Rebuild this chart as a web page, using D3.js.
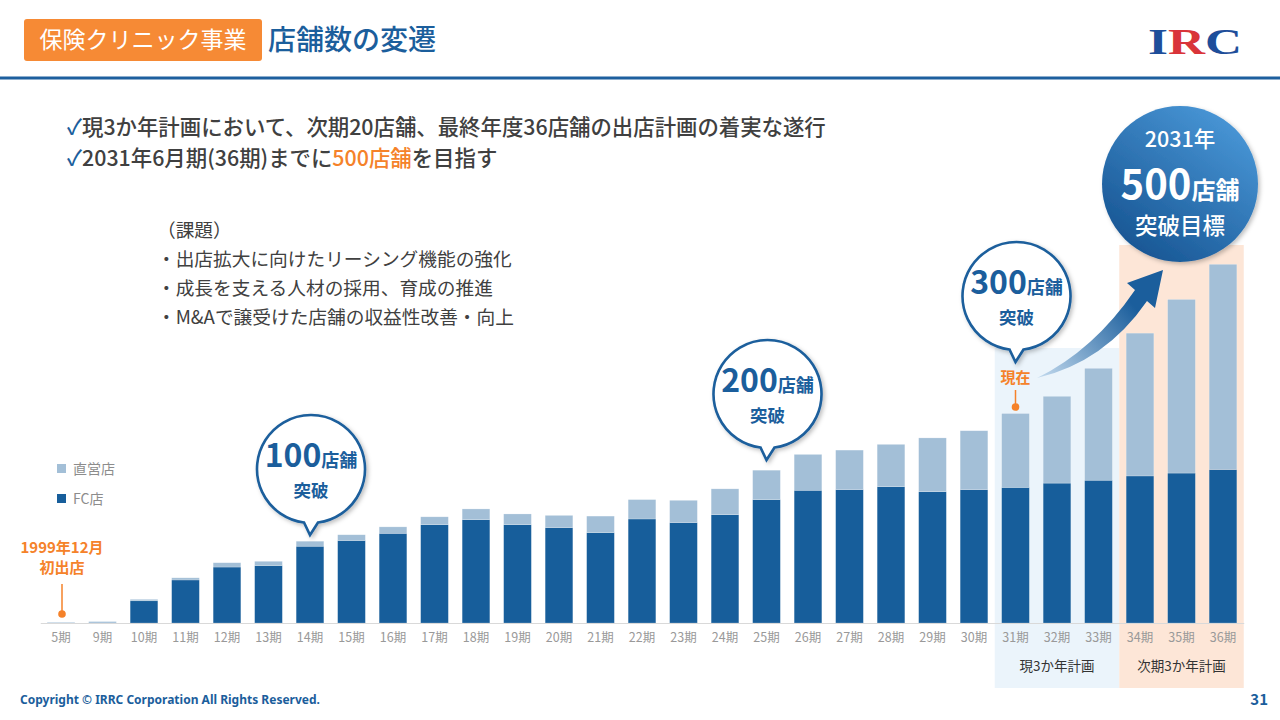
<!DOCTYPE html>
<html>
<head>
<meta charset="utf-8">
<script src="https://cdn.jsdelivr.net/npm/d3@7"></script>
<style>
  body { margin: 0; background: #fff; }
  svg { display: block; font-family: "Noto Sans CJK JP", "Noto Sans", sans-serif; }
</style>
</head>
<body>
<script>
// periods on the x axis
var periods = ["5", "9", "10", "11", "12", "13", "14", "15", "16", "17", "18", "19", "20", "21", "22",
               "23", "24", "25", "26", "27", "28", "29", "30", "31", "32", "33", "34", "35", "36"];
// FC stores (dark) and directly managed stores (light)
var fcStores     = [0, 0, 31, 60, 78, 80, 107, 115, 125, 137, 144, 137, 133, 126, 145,
                    140, 151, 172, 185, 186, 190, 183, 186, 189, 195, 199, 205, 209, 214];
var directStores = [1, 2, 2, 3, 6, 6, 7, 8, 9, 11, 15, 15, 17, 23, 27,
                    31, 36, 41, 50, 55, 59, 75, 82, 103, 121, 156, 199, 242, 286];
var tickLabels = periods.map(function(p) { return p + "期"; });
var seriesNames = ["FC店", "直営店"];
// milestone call-outs
var milestones = [
  {period: "14期", num: "100"},
  {period: "25期", num: "200"},
  {period: "31期", num: "300"}
];
var planBands = [
  {from: "31期", to: "33期", label: "現3か年計画", fill: "#EBF4FB", top: 348},
  {from: "34期", to: "36期", label: "次期3か年計画", fill: "#FDE6D7", top: 245}
];

var W = 1280, H = 720;
var blue = "#1B5E9C", orange = "#F5822A", textGrey = "#404040";
var colFC = "#175E9B", colDirect = "#A3BFD7";

var svg = d3.select("body").append("svg")
    .attr("width", W)
    .attr("height", H);

var defs = svg.append("defs");
var shadow = defs.append("filter").attr("id", "shadow")
    .attr("x", "-20%").attr("y", "-20%").attr("width", "150%").attr("height", "150%");
shadow.append("feDropShadow").attr("dx", 2).attr("dy", 2)
    .attr("stdDeviation", 2).attr("flood-color", "#000").attr("flood-opacity", 0.25);

var bigGrad = defs.append("linearGradient").attr("id", "bigGrad")
    .attr("x1", 0.85).attr("y1", 0.05).attr("x2", 0.2).attr("y2", 0.95);
bigGrad.append("stop").attr("offset", 0).attr("stop-color", "#4A98D8");
bigGrad.append("stop").attr("offset", 1).attr("stop-color", "#175593");

var arrowGrad = defs.append("linearGradient").attr("id", "arrowGrad")
    .attr("gradientUnits", "userSpaceOnUse")
    .attr("x1", 1037).attr("y1", 378).attr("x2", 1160).attr("y2", 275);
arrowGrad.append("stop").attr("offset", 0).attr("stop-color", "#C4DBEF");
arrowGrad.append("stop").attr("offset", 0.75).attr("stop-color", "#1B5E9C");

// ---- header ----
svg.append("rect").attr("x", 24).attr("y", 19).attr("width", 238).attr("height", 42)
    .attr("rx", 3).attr("fill", "#F68A35");
svg.append("text").attr("x", 143).attr("y", 48).attr("text-anchor", "middle")
    .attr("font-size", 23).attr("fill", "#fff").text("保険クリニック事業");
svg.append("text").attr("x", 268).attr("y", 50)
    .attr("font-size", 28).attr("font-weight", 500).attr("fill", blue).text("店舗数の変遷");
svg.append("rect").attr("x", 0).attr("y", 76.5).attr("width", W).attr("height", 3).attr("fill", "#1D5F9E");

// logo
var logo = svg.append("text").attr("x", 1148).attr("y", 54)
    .attr("font-family", "'Liberation Serif', 'DejaVu Serif', serif")
    .attr("font-size", 35).attr("font-weight", "bold")
    .attr("textLength", 94).attr("lengthAdjust", "spacingAndGlyphs");
logo.append("tspan").attr("fill", "#1E4E9A").text("I");
logo.append("tspan").attr("fill", "#D9343A").text("R");
logo.append("tspan").attr("fill", "#1E4E9A").text("C");

// ---- bullet text ----
var line1 = svg.append("text").attr("x", 67).attr("y", 135)
    .attr("font-size", 21.4).attr("font-weight", 500).attr("fill", textGrey);
line1.append("tspan").attr("fill", blue).text("✓");
line1.append("tspan").text("現3か年計画において、次期20店舗、最終年度36店舗の出店計画の着実な遂行");
var line2 = svg.append("text").attr("x", 67).attr("y", 166)
    .attr("font-size", 21.4).attr("font-weight", 500).attr("fill", textGrey);
line2.append("tspan").attr("fill", blue).text("✓");
line2.append("tspan").text("2031年6月期(36期)までに");
line2.append("tspan").attr("fill", orange).text("500店舗");
line2.append("tspan").text("を目指す");

var issues = ["（課題）", "・出店拡大に向けたリーシング機能の強化", "・成長を支える人材の採用、育成の推進",
              "・M&Aで譲受けた店舗の収益性改善・向上"];
svg.selectAll(".issue").data(issues).enter().append("text")
    .attr("class", "issue")
    .attr("x", 157)
    .attr("y", function(d, i) { return 237 + i * 29; })
    .attr("font-size", 18.7).attr("fill", textGrey)
    .text(function(d) { return d; });

// ---- scales ----
var x = d3.scaleBand().domain(tickLabels).range([40.25, 1243.75])
    .paddingInner(0.333).paddingOuter(0.1665);
var y = d3.scaleLinear().domain([0, 500]).range([623, 264.3]);
var cx = function(p) { return x(p) + x.bandwidth() / 2; };
var halfStep = x.step() / 2;

// plan shading
svg.selectAll(".plan").data(planBands).enter().append("rect")
    .attr("x", function(d) { return cx(d.from) - halfStep; })
    .attr("y", function(d) { return d.top; })
    .attr("width", function(d) { return cx(d.to) - cx(d.from) + 2 * halfStep; })
    .attr("height", function(d) { return 688 - d.top; })
    .attr("fill", function(d) { return d.fill; });
svg.selectAll(".planLabel").data(planBands).enter().append("text")
    .attr("x", function(d) { return (cx(d.from) + cx(d.to)) / 2; })
    .attr("y", 671).attr("text-anchor", "middle")
    .attr("font-size", 13.5).attr("fill", "#333")
    .text(function(d) { return d.label; });

// stacked bars
var table = tickLabels.map(function(p, i) {
  return {period: p, fc: fcStores[i], direct: directStores[i]};
});
var stack = d3.stack().keys(["fc", "direct"])(table);
var colors = [colFC, colDirect];

svg.append("g").selectAll("g").data(stack).enter().append("g")
    .attr("fill", function(d, i) { return colors[i]; })
  .selectAll("rect").data(function(d) { return d; }).enter().append("rect")
    .attr("x", function(d) { return x(d.data.period); })
    .attr("y", function(d) { return y(d[1]); })
    .attr("width", x.bandwidth())
    .attr("height", function(d) { return y(d[0]) - y(d[1]); })
    .attr("stroke", "#fff").attr("stroke-opacity", 0.35).attr("stroke-width", 0.6);

// axis
var xAxis = svg.append("g").attr("transform", "translate(0,623)")
    .call(d3.axisBottom(x).tickSize(0).tickPadding(10));
xAxis.select(".domain").attr("stroke", "#D9D9D9").attr("stroke-width", 1.2);
xAxis.selectAll("text").attr("font-size", 12.5).attr("fill", "#999")
    .attr("font-family", "'Noto Sans CJK JP', sans-serif");

// legend
var legend = svg.selectAll(".legend").data(seriesNames.slice().reverse()).enter().append("g")
    .attr("transform", function(d, i) { return "translate(57," + (464 + i * 30) + ")"; });
legend.append("rect").attr("width", 9).attr("height", 9)
    .attr("fill", function(d) { return d === "FC店" ? colFC : colDirect; });
legend.append("text").attr("x", 16).attr("y", 10).attr("font-size", 14).attr("fill", "#8C8C8C")
    .text(function(d) { return d; });

// first store marker
var first = tickLabels[0];
svg.append("text").attr("x", cx(first) + 1).attr("y", 553).attr("text-anchor", "middle")
    .attr("font-size", 15).attr("font-weight", "bold").attr("fill", orange).text("1999年12月");
svg.append("text").attr("x", cx(first) + 1).attr("y", 573).attr("text-anchor", "middle")
    .attr("font-size", 15).attr("font-weight", "bold").attr("fill", orange).text("初出店");
svg.append("line").attr("x1", cx(first) + 1).attr("x2", cx(first) + 1).attr("y1", 584).attr("y2", 613)
    .attr("stroke", orange).attr("stroke-width", 1.5);
svg.append("circle").attr("cx", cx(first) + 1).attr("cy", 614).attr("r", 3.8).attr("fill", orange);

// "now" marker
var now = "31期";
svg.append("text").attr("x", cx(now)).attr("y", 383).attr("text-anchor", "middle")
    .attr("font-size", 15).attr("font-weight", "bold").attr("fill", orange).text("現在");
svg.append("line").attr("x1", cx(now)).attr("x2", cx(now)).attr("y1", 390).attr("y2", 406)
    .attr("stroke", orange).attr("stroke-width", 1.5);
svg.append("circle").attr("cx", cx(now)).attr("cy", 407).attr("r", 3.8).attr("fill", orange);

// milestone bubbles
function bubblePath(bx, by, r, tx, ty) {
  var hw = 7;
  var a = Math.asin(hw / r);
  var ly = by + r * Math.cos(a);
  return "M" + (bx + hw) + "," + ly + " A" + r + "," + r + " 0 1 0 " + (bx - hw) + "," + ly +
         " L" + tx + "," + ty + " Z";
}
var tipY = {"14期": 535, "25期": 460, "31期": 362};
milestones.forEach(function(m) {
  var tx = cx(m.period), ty = tipY[m.period];
  var bx = tx + 1, by = ty - 66, r = 54;
  svg.append("path").attr("d", bubblePath(bx, by, r, tx, ty))
      .attr("fill", "#fff").attr("stroke", blue).attr("stroke-width", 2.6)
      .attr("filter", "url(#shadow)");
  var t = svg.append("text").attr("x", bx).attr("y", by - 2).attr("text-anchor", "middle")
      .attr("fill", blue).attr("font-weight", "bold");
  t.append("tspan").attr("font-size", 32).text(m.num);
  t.append("tspan").attr("font-size", 18).text("店舗");
  svg.append("text").attr("x", bx).attr("y", by + 28).attr("text-anchor", "middle")
      .attr("fill", blue).attr("font-weight", "bold").attr("font-size", 17.5).text("突破");
});

// arrow towards the goal
svg.append("path")
    .attr("d", "M1037,378 Q1094,350 1135,290 L1127,283 L1163,270 L1155,308 L1147,301 Q1105,362 1037,378 Z")
    .attr("fill", "url(#arrowGrad)");

// goal circle
svg.append("circle").attr("cx", 1180).attr("cy", 184).attr("r", 78)
    .attr("fill", "url(#bigGrad)").attr("filter", "url(#shadow)");
svg.append("text").attr("x", 1180).attr("y", 147).attr("text-anchor", "middle")
    .attr("fill", "#fff").attr("font-size", 21.5).attr("font-weight", 500).text("2031年");
var goal = svg.append("text").attr("x", 1180).attr("y", 199).attr("text-anchor", "middle")
    .attr("fill", "#fff").attr("font-weight", "bold");
goal.append("tspan").attr("font-size", 40).text("500");
goal.append("tspan").attr("font-size", 24).text("店舗");
svg.append("text").attr("x", 1180).attr("y", 234).attr("text-anchor", "middle")
    .attr("fill", "#fff").attr("font-size", 22.5).attr("font-weight", 500).text("突破目標");

// footer
svg.append("text").attr("x", 20).attr("y", 704).attr("font-size", 12).attr("font-weight", "bold")
    .attr("fill", blue).attr("font-family", "'Noto Sans', sans-serif")
    .text("Copyright © IRRC Corporation All Rights Reserved.");
svg.append("text").attr("x", 1268).attr("y", 705).attr("text-anchor", "end").attr("font-size", 15)
    .attr("font-weight", "bold").attr("fill", blue).text("31");
</script>
</body>
</html>
